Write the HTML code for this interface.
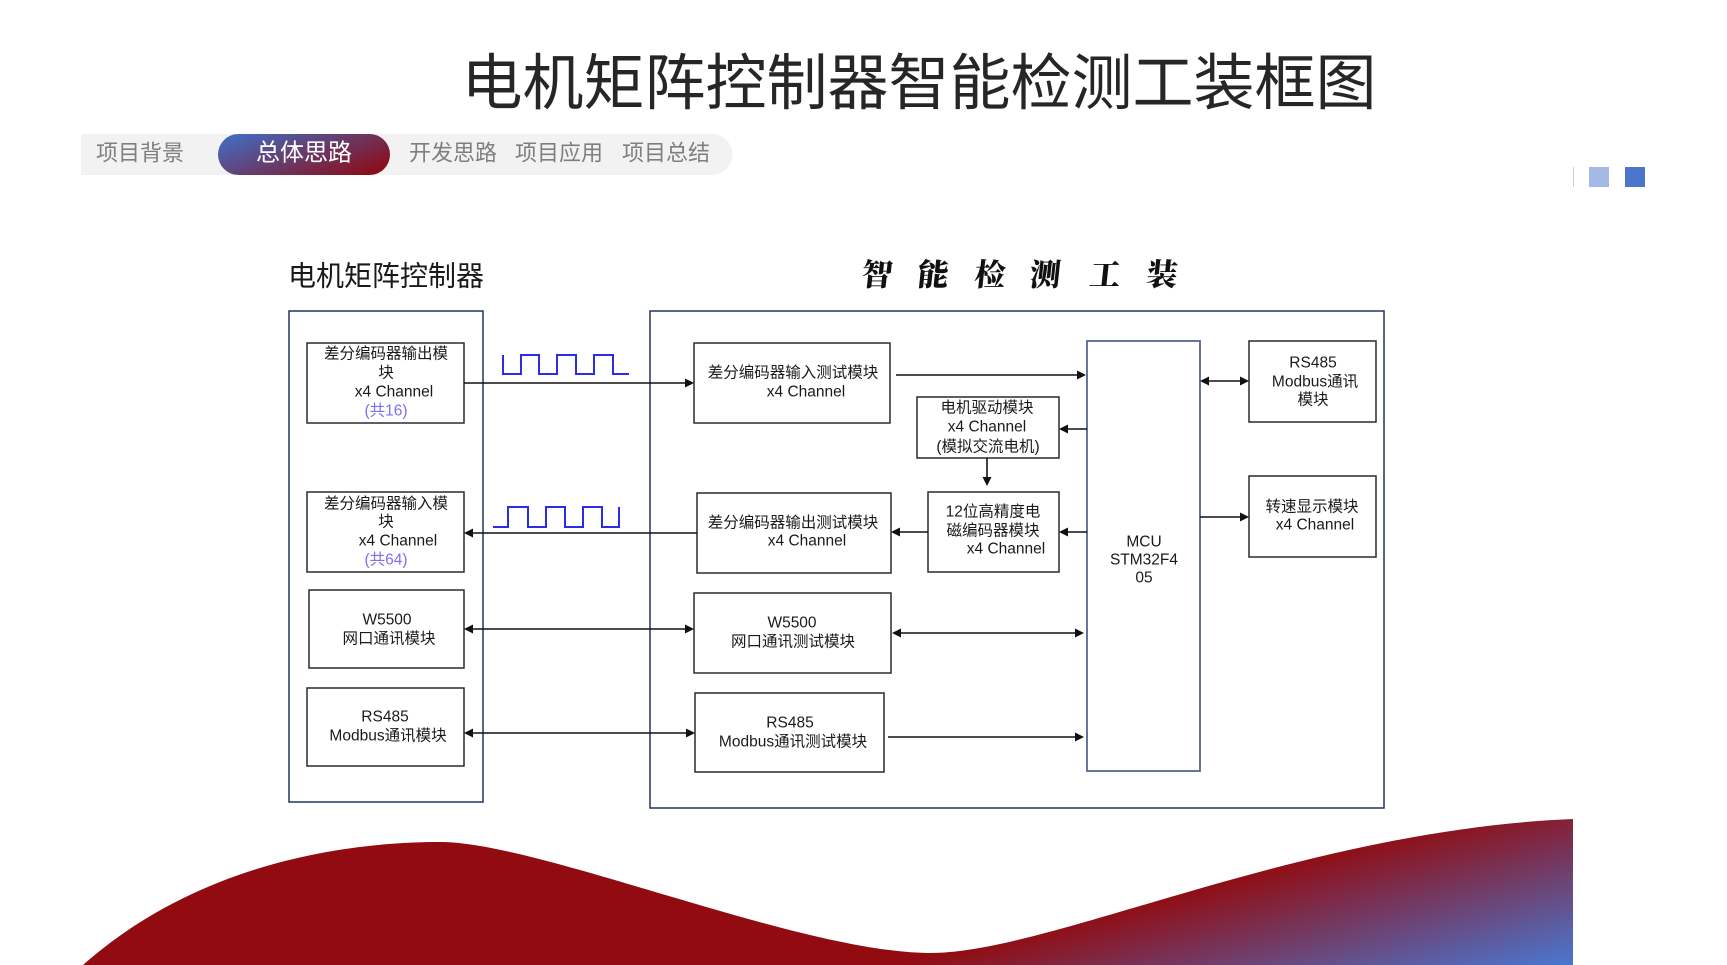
<!DOCTYPE html>
<html>
<head>
<meta charset="utf-8">
<style>
  html, body { margin:0; padding:0; background:#ffffff; }
  body { width:1727px; height:965px; overflow:hidden; position:relative; }
  svg { position:absolute; left:0; top:0; }
  .t { font-family:"Liberation Sans","Noto Sans CJK SC",sans-serif; }
  .bx { font-size:15.5px; fill:#1a1a1a; }
  .tab { font-size:22px; fill:#7f7f7f; }
</style>
</head>
<body>
<svg width="1727" height="965" viewBox="0 0 1727 965" xmlns="http://www.w3.org/2000/svg">
  <defs>
    <linearGradient id="pill" x1="0" y1="0.2" x2="1" y2="0.8">
      <stop offset="0" stop-color="#4469bb"/>
      <stop offset="1" stop-color="#8c0c18"/>
    </linearGradient>
    <linearGradient id="wave" gradientUnits="userSpaceOnUse" x1="1527" y1="795" x2="1573" y2="965">
      <stop offset="0" stop-color="#920b10"/>
      <stop offset="1" stop-color="#4a77d0"/>
    </linearGradient>
  </defs>

  <!-- Title -->
  <text class="t" x="919" y="83" font-size="61" fill="#262626" text-anchor="middle" dominant-baseline="central">电机矩阵控制器智能检测工装框图</text>

  <!-- Tab bar -->
  <path d="M81,134 H712 A20.5,20.5 0 0 1 712,175 H81 Z" fill="#f2f2f2"/>
  <rect x="218" y="134" width="172" height="41" rx="20.5" ry="20.5" fill="url(#pill)"/>
  <text class="t tab" x="140" y="153" text-anchor="middle" dominant-baseline="central">项目背景</text>
  <text class="t" x="304" y="153" font-size="24" fill="#ffffff" text-anchor="middle" dominant-baseline="central">总体思路</text>
  <text class="t tab" x="453" y="153" text-anchor="middle" dominant-baseline="central">开发思路</text>
  <text class="t tab" x="559" y="153" text-anchor="middle" dominant-baseline="central">项目应用</text>
  <text class="t tab" x="666" y="153" text-anchor="middle" dominant-baseline="central">项目总结</text>

  <!-- top-right decoration -->
  <line x1="1573.5" y1="167" x2="1573.5" y2="187" stroke="#c3d0ec" stroke-width="1"/>
  <rect x="1589" y="167" width="20" height="20" fill="#a3b8e4"/>
  <rect x="1625" y="167" width="20" height="20" fill="#4a76cb"/>

  <!-- Section headings -->
  <text class="t" x="386" y="276" font-size="28" fill="#1a1a1a" text-anchor="middle" dominant-baseline="central">电机矩阵控制器</text>
  <g font-family="'Noto Serif CJK SC','Noto Sans CJK SC',serif" font-weight="900" font-size="31" fill="#111" text-anchor="middle" dominant-baseline="central">
    <text x="877" y="272" transform="skewX(-6) translate(29,0)">智</text>
    <text x="933" y="272" transform="skewX(-6) translate(29,0)">能</text>
    <text x="990" y="272" transform="skewX(-6) translate(29,0)">检</text>
    <text x="1045" y="272" transform="skewX(-6) translate(29,0)">测</text>
    <text x="1105" y="272" transform="skewX(-6) translate(29,0)">工</text>
    <text x="1162" y="272" transform="skewX(-6) translate(29,0)">装</text>
  </g>

  <!-- Big container boxes -->
  <rect x="289" y="311" width="194" height="491" fill="none" stroke="#24345f" stroke-width="1.5"/>
  <rect x="650" y="311" width="734" height="497" fill="none" stroke="#24345f" stroke-width="1.5"/>

  <!-- Inner boxes -->
  <g fill="#ffffff" stroke="#2a2a2a" stroke-width="1.5">
    <rect x="307" y="343" width="157" height="80"/>
    <rect x="307" y="492" width="157" height="80"/>
    <rect x="309" y="590" width="155" height="78"/>
    <rect x="307" y="688" width="157" height="78"/>

    <rect x="694" y="343" width="196" height="80"/>
    <rect x="917" y="397" width="142" height="61"/>
    <rect x="928" y="492" width="131" height="80"/>
    <rect x="697" y="493" width="194" height="80"/>
    <rect x="694" y="593" width="197" height="80"/>
    <rect x="695" y="693" width="189" height="79"/>

    <rect x="1249" y="341" width="127" height="81"/>
    <rect x="1249" y="476" width="127" height="81"/>
  </g>
  <rect x="1087" y="341" width="113" height="430" fill="#ffffff" stroke="#55668f" stroke-width="1.8"/>

  <!-- Box texts -->
  <g class="t bx" text-anchor="middle" dominant-baseline="central">
    <text x="386" y="354">差分编码器输出模</text>
    <text x="386" y="373">块</text>
    <text x="394" y="392">x4 Channel</text>
    <text x="386" y="411" fill="#7a70f0" style="fill:#7a70f0">(共16)</text>

    <text x="386" y="504">差分编码器输入模</text>
    <text x="386" y="522">块</text>
    <text x="398" y="541">x4 Channel</text>
    <text x="386" y="560" style="fill:#7a70f0">(共64)</text>

    <text x="387" y="620">W5500</text>
    <text x="389" y="639">网口通讯模块</text>

    <text x="385" y="717">RS485</text>
    <text x="388" y="736">Modbus通讯模块</text>

    <text x="793" y="373">差分编码器输入测试模块</text>
    <text x="806" y="392">x4 Channel</text>

    <text x="987" y="408">电机驱动模块</text>
    <text x="987" y="427">x4 Channel</text>
    <text x="988" y="447">(模拟交流电机)</text>

    <text x="993" y="512">12位高精度电</text>
    <text x="993" y="531">磁编码器模块</text>
    <text x="1006" y="549">x4 Channel</text>

    <text x="793" y="523">差分编码器输出测试模块</text>
    <text x="807" y="541">x4 Channel</text>

    <text x="792" y="623">W5500</text>
    <text x="793" y="642">网口通讯测试模块</text>

    <text x="790" y="723">RS485</text>
    <text x="793" y="742">Modbus通讯测试模块</text>

    <text x="1144" y="542">MCU</text>
    <text x="1144" y="560">STM32F4</text>
    <text x="1144" y="578">05</text>

    <text x="1313" y="363">RS485</text>
    <text x="1315" y="382">Modbus通讯</text>
    <text x="1313" y="400">模块</text>

    <text x="1312" y="507">转速显示模块</text>
    <text x="1315" y="525">x4 Channel</text>
  </g>

  <!-- Square waves -->
  <polyline fill="none" stroke="#2b2be8" stroke-width="2" points="503,355 503,374 521,374 521,355 539,355 539,374 557,374 557,355 576,355 576,374 594,374 594,355 613,355 613,374 629,374"/>
  <polyline fill="none" stroke="#2b2be8" stroke-width="2" points="493,527 508,527 508,507 528,507 528,527 546,527 546,507 565,507 565,527 583,527 583,507 602,507 602,527 619,527 619,507"/>

  <!-- Connectors -->
  <g stroke="#111" stroke-width="1.6" fill="none">
    <line x1="464" y1="383" x2="688" y2="383"/>
    <line x1="896" y1="375" x2="1080" y2="375"/>
    <line x1="1087" y1="429" x2="1066" y2="429"/>
    <line x1="987" y1="458" x2="987" y2="478"/>
    <line x1="1087" y1="532" x2="1066" y2="532"/>
    <line x1="928" y1="532" x2="898" y2="532"/>
    <line x1="697" y1="533" x2="471" y2="533"/>
    <line x1="471" y1="629" x2="687" y2="629"/>
    <line x1="899" y1="633" x2="1076" y2="633"/>
    <line x1="471" y1="733" x2="688" y2="733"/>
    <line x1="888" y1="737" x2="1078" y2="737"/>
    <line x1="1207" y1="381" x2="1242" y2="381"/>
    <line x1="1200" y1="517" x2="1242" y2="517"/>
  </g>
  <g fill="#111">
    <!-- right-pointing heads -->
    <polygon points="694,383 685,378.5 685,387.5"/>
    <polygon points="1086,375 1077,370.5 1077,379.5"/>
    <polygon points="694,629 685,624.5 685,633.5"/>
    <polygon points="1084,633 1075,628.5 1075,637.5"/>
    <polygon points="695,733 686,728.5 686,737.5"/>
    <polygon points="1084,737 1075,732.5 1075,741.5"/>
    <polygon points="1249,381 1240,376.5 1240,385.5"/>
    <polygon points="1249,517 1240,512.5 1240,521.5"/>
    <!-- left-pointing heads -->
    <polygon points="1059,429 1068,424.5 1068,433.5"/>
    <polygon points="1059,532 1068,527.5 1068,536.5"/>
    <polygon points="891,532 900,527.5 900,536.5"/>
    <polygon points="464,533 473,528.5 473,537.5"/>
    <polygon points="464,629 473,624.5 473,633.5"/>
    <polygon points="892,633 901,628.5 901,637.5"/>
    <polygon points="464,733 473,728.5 473,737.5"/>
    <polygon points="1200,381 1209,376.5 1209,385.5"/>
    <!-- down head -->
    <polygon points="987,486 982.5,477 991.5,477"/>
  </g>

  <!-- Bottom wave -->
  <path d="M83,965 C190,870 330,842 440,842 C540,842 800,953 931,953 C1050,953 1300,830 1573,819 L1573,965 Z" fill="url(#wave)"/>
</svg>
</body>
</html>
